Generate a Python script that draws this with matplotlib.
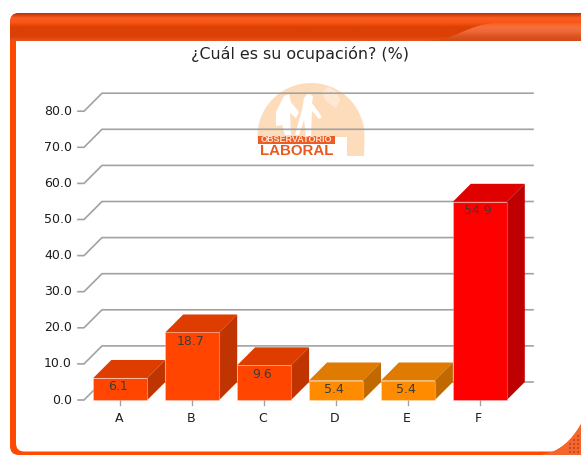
import numpy as np
from matplotlib import pyplot as plt
from matplotlib.colors import LinearSegmentedColormap
from matplotlib.patches import FancyBboxPatch, PathPatch, Polygon, Rectangle
from matplotlib.path import Path

W, H = 581, 455

categories = ['A', 'B', 'C', 'D', 'E', 'F']
values = [6.1, 18.7, 9.6, 5.4, 5.4, 54.9]
front_colors = ['#ff4500', '#ff4500', '#ff4500', '#ff8c00', '#ff8c00', '#ff0000']
top_colors = ['#df3c00', '#df3c00', '#df3c00', '#df7b00', '#df7b00', '#df0000']
side_colors = ['#bf3400', '#bf3400', '#bf3400', '#bf6900', '#bf6900', '#bf0000']
y_ticks = [0, 10, 20, 30, 40, 50, 60, 70, 80]
title = '¿Cuál es su ocupación? (%)'

# pixels per unit, the axes fill the whole figure
x_px, y_px = 71.9, 3.61
x0_px, y0_px = 120.3, 400
depth_x, depth_y = 18 / x_px, 18 / y_px
half = 27 / x_px

fig = plt.figure(figsize=(W / 100, H / 100), dpi=100, facecolor='white')
ax = fig.add_axes([0, 0, 1, 1])
ax.set_xlim(-x0_px / x_px, (W - x0_px) / x_px)
ax.set_ylim(-(H - y0_px) / y_px, y0_px / y_px)
ax.axis('off')
px = ax.transAxes


def pt(x, y):
    # picture pixels from the top left to axes fractions
    return (x / W, 1 - y / H)


def poly(points, color, z):
    ax.add_patch(Polygon([pt(*p) for p in points], closed=True, transform=px,
                         fc=color, ec='none', zorder=z))


def gradient(colors, clip, z):
    cmap = LinearSegmentedColormap.from_list('g', colors)
    im = ax.imshow(np.linspace(0, 1, 64).reshape(-1, 1), cmap=cmap, aspect='auto',
                   extent=(10 / W, 1, 1 - 41 / H, 1 - 13 / H), transform=px, zorder=z)
    im.set_clip_path(clip)


# page frame
base = FancyBboxPatch(pt(10, 455), 640 / W, 442 / H,
                      boxstyle=f'round,pad=0,rounding_size={9 / W}',
                      mutation_aspect=W / H, transform=px, fc='#ff4a00', ec='none', zorder=1)
ax.add_patch(base)
head_clip = FancyBboxPatch(pt(10, 60), 640 / W, 47 / H,
                           boxstyle=f'round,pad=0,rounding_size={9 / W}',
                           mutation_aspect=W / H, transform=px)
gradient(['#b83208', '#fb5c20', '#f85618', '#dc4004', '#dc4004', '#dc4004', '#e6541c'],
         head_clip, 2)
tab_verts = [pt(425, 41), pt(455, 41), pt(468, 24), pt(495, 23), pt(585, 23), pt(585, 41), pt(425, 41)]
tab_codes = [Path.MOVETO, Path.CURVE4, Path.CURVE4, Path.CURVE4, Path.LINETO, Path.LINETO, Path.CLOSEPOLY]
tab_clip = PathPatch(Path(tab_verts, tab_codes), transform=px)
gradient(['#fb5c20', '#fb5c20', '#fb5c20', '#f4703c', '#f0683a', '#dc5420', '#d24a14'], tab_clip, 3)

# white panel with its two rounded bottom corners
panel_verts = [pt(16, 41), pt(581, 41), pt(581, 424), pt(581, 424), pt(570, 445), pt(553, 451.5),
               pt(24, 451.5), pt(16, 451.5), pt(16, 443), pt(16, 41)]
panel_codes = [Path.MOVETO, Path.LINETO, Path.LINETO, Path.CURVE4, Path.CURVE4, Path.CURVE4,
               Path.LINETO, Path.CURVE3, Path.CURVE3, Path.CLOSEPOLY]
ax.add_patch(PathPatch(Path(panel_verts, panel_codes), transform=px, fc='white', ec='none', zorder=4))

# bottom right corner, lighter with a dot pattern
corner_verts = [pt(581, 424), pt(570, 445), pt(553, 451.5), pt(540, 455), pt(581, 455), pt(581, 424)]
corner_codes = [Path.MOVETO, Path.CURVE3, Path.CURVE3, Path.LINETO, Path.LINETO, Path.CLOSEPOLY]
ax.add_patch(PathPatch(Path(corner_verts, corner_codes), transform=px, fc='#f5662c', ec='none', zorder=4))
for dx in range(565, 581, 4):
    for dy in range(431, 455, 4):
        if (dx - 560) * (dy - 425) > 160:
            ax.add_patch(Rectangle(pt(dx, dy + 1.5), 1.5 / W, 1.5 / H, transform=px,
                                   fc='#c84a20', ec='none', zorder=5))

# washed out logo behind the grid
logo = '#fddcbc'
arch = [(311 + 53.5 * np.cos(a), 136 - 53 * np.sin(a)) for a in np.linspace(0, np.pi, 60)]
poly(arch + [(258, 156), (364, 156)], logo, 5)
poly([(258, 137), (347, 137), (347, 157), (258, 157)], 'white', 5.1)
poly([(276, 112), (284, 96), (289, 94), (291, 102), (299, 112), (296, 118), (290, 113),
      (291, 135), (285, 135), (282, 125), (276, 126)], 'white', 5.2)
poly([(304, 98), (308, 93), (313, 96), (312, 103), (322, 117), (319, 119), (312, 111),
      (311, 137), (306, 137), (304, 120), (299, 135), (295, 135), (302, 110)], 'white', 5.2)
poly([(322, 92), (328, 87), (336, 91), (340, 100), (336, 108), (330, 104), (325, 100)], '#fee8d4', 5.2)
poly([(258, 136), (335, 136), (335, 144), (258, 144)], '#ee5c22', 5.3)
ax.text(*pt(296.5, 140), 'OBSERVATORIO', transform=px, ha='center', va='center',
        fontsize=6.5, fontweight='bold', color='#fde4d4', family='Liberation Sans', zorder=5.4)
ax.text(*pt(296.5, 151), 'LABORAL', transform=px, ha='center', va='center',
        fontsize=10.8, fontweight='bold', color='#ea5a1e', family='Liberation Sans', zorder=5.4)

# grid: front tick, slanted wall part, back line
x_front = (84 - x0_px) / x_px
x_back = x_front + depth_x
x_end = (533 - x0_px) / x_px
for t in y_ticks:
    ax.plot([x_front - 6 / x_px, x_front, x_back, x_end], [t, t, t + depth_y, t + depth_y],
            color='#a2a2a2', lw=1.2, solid_joinstyle='miter', zorder=6)
    ax.text(x_front - 12 / x_px, t, f'{t:.1f}', ha='right', va='center',
            fontsize=9, color='#1c1c1c', family='DejaVu Sans', zorder=6)

# 3d bars
for i, (name, v) in enumerate(zip(categories, values)):
    l, r = i - half, i + half
    ax.plot([i, i], [0, -5 / y_px], color='#a2a2a2', lw=1, zorder=6)
    ax.add_patch(Polygon([(l, v), (r, v), (r + depth_x, v + depth_y), (l + depth_x, v + depth_y)],
                         fc=top_colors[i], ec='none', zorder=7 + i))
    ax.add_patch(Polygon([(r, 0), (r + depth_x, depth_y), (r + depth_x, v + depth_y), (r, v)],
                         fc=side_colors[i], ec='none', zorder=7 + i))
    ax.add_patch(Rectangle((l, 0), r - l, v, fc=front_colors[i], ec=(1, 1, 1, 0.25), lw=0.8,
                           zorder=7 + i))
    ax.text(i - 2 / x_px, v - 9 / y_px, f'{v:.1f}', ha='center', va='center',
            fontsize=9, color='#3c3c3c', family='DejaVu Sans', zorder=20)
    ax.text(i - 1 / x_px, -18 / y_px, name, ha='center', va='center',
            fontsize=9, color='#1c1c1c', family='DejaVu Sans', zorder=6)

ax.text(*pt(300, 54), title, transform=px, ha='center', va='center',
        fontsize=11.4, color='#222222', family='DejaVu Sans', zorder=6)

fig.savefig('out.png', dpi=100, facecolor='white')
